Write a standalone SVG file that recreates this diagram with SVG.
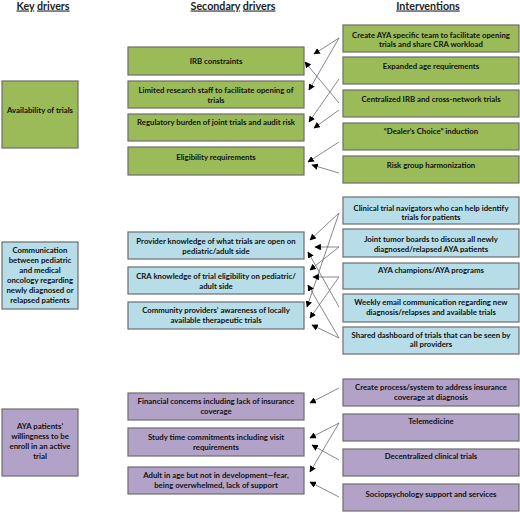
<svg xmlns="http://www.w3.org/2000/svg" width="520" height="513" viewBox="0 0 520 513">
<defs>
<style>
.g{fill:#9BBB59;stroke:#6d6d6d;stroke-width:1.2}
.b{fill:#B7DEE8;stroke:#6d6d6d;stroke-width:1.2}
.p{fill:#B3A2C7;stroke:#6d6d6d;stroke-width:1.2}
text{font-family:Lato,"Liberation Sans",sans-serif;font-weight:bold;font-size:7.8px;fill:#111;text-anchor:middle}
.h{font-size:10.7px;fill:#222}
.u{text-decoration:underline}
.c line{stroke:#555;stroke-width:0.7;marker-end:url(#ah)}
</style>
<marker id="ah" viewBox="0 0 10 10" refX="9" refY="5" markerWidth="6.5" markerHeight="6.5" orient="auto" markerUnits="userSpaceOnUse">
<path d="M0,0 L10,5 L0,10 z" fill="#000"/>
</marker>
</defs>
<rect width="520" height="513" fill="#fff"/>
<g id="headers">
<text class="h" x="43" y="9.5"><tspan class="u">Key</tspan> <tspan class="u">drivers</tspan></text>
<text class="h" x="233" y="9.5"><tspan class="u">Secondary</tspan> <tspan class="u">drivers</tspan></text>
<text class="h" x="428" y="9.5"><tspan class="u">Interventions</tspan></text>
</g>

<g id="key1"><rect class="g" x="2" y="81" width="76" height="67"/><text x="40" y="113">Availability of trials</text></g>
<g id="key2"><rect class="b" x="2" y="242" width="76" height="67"/>
<text x="40" y="252.5">Communication</text><text x="40" y="262.5">between pediatric</text><text x="40" y="272.5">and medical</text><text x="40" y="282.5">oncology regarding</text><text x="40" y="292.5">newly diagnosed or</text><text x="40" y="302.5">relapsed patients</text></g>
<g id="key3"><rect class="p" x="2" y="409" width="76" height="67"/>
<text x="40" y="429">AYA patients’</text><text x="40" y="439">willingness to be</text><text x="40" y="449">enroll in an active</text><text x="40" y="459">trial</text></g>

<g id="s1"><rect class="g" x="128" y="47" width="176" height="28"/><text x="216" y="64">IRB constraints</text></g>
<g id="s2"><rect class="g" x="128" y="81" width="176" height="27"/><text x="216" y="92.5">Limited research staff to facilitate opening of</text><text x="216" y="102.5">trials</text></g>
<g id="s3"><rect class="g" x="128" y="114" width="176" height="27"/><text x="216" y="124.5">Regulatory burden of joint trials and audit risk</text></g>
<g id="s4"><rect class="g" x="128" y="147" width="176" height="28"/><text x="216" y="159.5">Eligibility requirements</text></g>

<g id="s5"><rect class="b" x="128" y="232" width="176" height="27"/><text x="216" y="244">Provider knowledge of what trials are open on</text><text x="216" y="253.5">pediatric/adult side</text></g>
<g id="s6"><rect class="b" x="128" y="267" width="176" height="27"/><text x="216" y="278.5">CRA knowledge of trial eligibility on pediatric/</text><text x="216" y="289">adult side</text></g>
<g id="s7"><rect class="b" x="128" y="302" width="176" height="27"/><text x="216" y="312.5">Community providers’ awareness of locally</text><text x="216" y="323">available therapeutic trials</text></g>

<g id="s8"><rect class="p" x="128" y="393" width="176" height="27"/><text x="216" y="404">Financial concerns including lack of insurance</text><text x="216" y="414">coverage</text></g>
<g id="s9"><rect class="p" x="128" y="428" width="176" height="28"/><text x="216" y="440">Study time commitments including visit</text><text x="216" y="450">requirements</text></g>
<g id="s10"><rect class="p" x="128" y="467" width="176" height="27"/><text x="216" y="477.5">Adult in age but not in development—fear,</text><text x="216" y="487.5">being overwhelmed, lack of support</text></g>

<g id="i1"><rect class="g" x="343" y="25" width="176" height="27"/><text x="431" y="37.5">Create AYA specific team to facilitate opening</text><text x="431" y="47">trials and share CRA workload</text></g>
<g id="i2"><rect class="g" x="343" y="57" width="176" height="27"/><text x="431" y="69">Expanded age requirements</text></g>
<g id="i3"><rect class="g" x="343" y="90" width="176" height="27"/><text x="431" y="102">Centralized IRB and cross-network trials</text></g>
<g id="i4"><rect class="g" x="343" y="123" width="176" height="27"/><text x="431" y="134">“Dealer’s Choice” induction</text></g>
<g id="i5"><rect class="g" x="343" y="156" width="176" height="27"/><text x="431" y="167.5">Risk group harmonization</text></g>

<g id="i6"><rect class="b" x="343" y="197" width="176" height="27"/><text x="431" y="210.5">Clinical trial navigators who can help identify</text><text x="431" y="220">trials for patients</text></g>
<g id="i7"><rect class="b" x="343" y="229" width="176" height="28"/><text x="431" y="242">Joint tumor boards to discuss all newly</text><text x="431" y="252">diagnosed/relapsed AYA patients</text></g>
<g id="i8"><rect class="b" x="343" y="263" width="176" height="26"/><text x="431" y="273">AYA champions/AYA programs</text></g>
<g id="i9"><rect class="b" x="343" y="294" width="176" height="28"/><text x="431" y="305">Weekly email communication regarding new</text><text x="431" y="315">diagnosis/relapses and available trials</text></g>
<g id="i10"><rect class="b" x="343" y="327" width="176" height="27"/><text x="431" y="337.5">Shared dashboard of trials that can be seen by</text><text x="431" y="347">all providers</text></g>

<g id="i11"><rect class="p" x="343" y="379" width="176" height="27"/><text x="431" y="390">Create process/system to address insurance</text><text x="431" y="400">coverage at diagnosis</text></g>
<g id="i12"><rect class="p" x="343" y="414" width="176" height="27"/><text x="431" y="424">Telemedicine</text></g>
<g id="i13"><rect class="p" x="343" y="449" width="176" height="27"/><text x="431" y="459">Decentralized clinical trials</text></g>
<g id="i14"><rect class="p" x="343" y="484" width="176" height="27"/><text x="431" y="496.5">Sociopsychology support and services</text></g>

<g id="connectors" class="c">
<line x1="339" y1="38" x2="314" y2="54"/>
<line x1="339" y1="38" x2="309" y2="90"/>
<line x1="339" y1="103" x2="305" y2="62"/>
<line x1="339" y1="79" x2="309" y2="122"/>
<line x1="339" y1="110" x2="314" y2="128"/>
<line x1="339" y1="142" x2="308" y2="162"/>
<line x1="339" y1="173" x2="312" y2="165"/>

<line x1="339" y1="213" x2="310" y2="240"/>
<line x1="339" y1="213" x2="307" y2="307"/>
<line x1="339" y1="247" x2="315" y2="247"/>
<line x1="339" y1="247" x2="310" y2="270"/>
<line x1="339" y1="277" x2="313" y2="277"/>
<line x1="339" y1="277" x2="310" y2="318"/>
<line x1="339" y1="307" x2="308" y2="252"/>
<line x1="339" y1="338" x2="308" y2="285"/>
<line x1="339" y1="338" x2="312" y2="325"/>

<line x1="339" y1="388" x2="310" y2="403"/>
<line x1="339" y1="423" x2="310" y2="438"/>
<line x1="339" y1="423" x2="310" y2="472"/>
<line x1="339" y1="460" x2="312" y2="445"/>
<line x1="339" y1="497" x2="310" y2="482"/>
</g>
</svg>
